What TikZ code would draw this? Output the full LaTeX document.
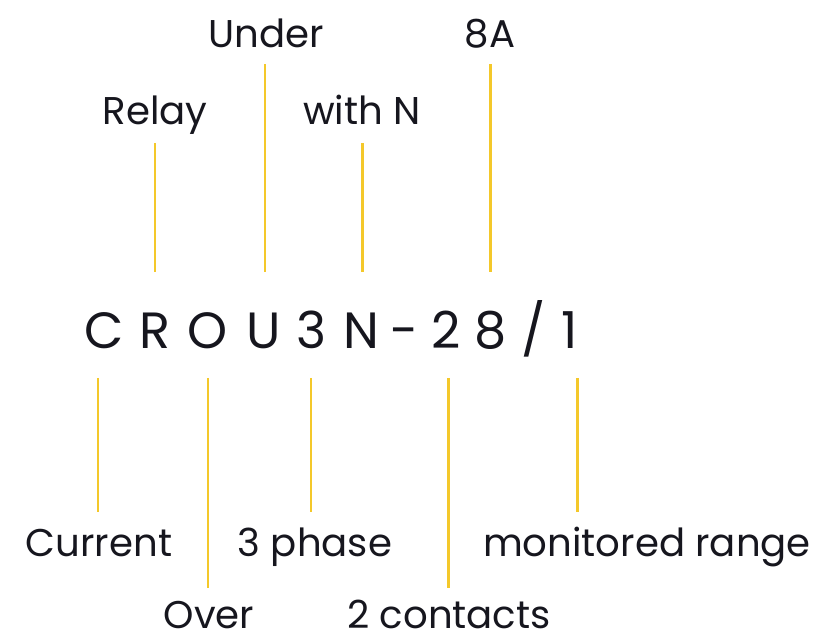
\documentclass[tikz,border=0pt]{standalone}
\usepackage{fontspec}
\setmainfont{Poppins}
\definecolor{tickyellow}{HTML}{F4C82A}
\definecolor{inkdark}{HTML}{16161E}
\tikzset{
    lbl/.style={anchor=base, inner sep=0pt, text=inkdark, font=\fontsize{22}{27}\selectfont},
    codechar/.style={anchor=base, inner sep=0pt, text=inkdark, font=\fontsize{29}{34}\selectfont},
    tick/.style={draw=tickyellow, line width=1.7pt}
}
\begin{document}
\begin{tikzpicture}[x=0.02cm, y=0.02cm]
    \useasboundingbox (0,0) rectangle (827,641);
    % the code itself, one letter at a time
    \foreach \nm/\x/\ch in {c1/104/C, c2/155/R, c3/208/O, c4/264/U, c5/311/3, c6/361/N, c7/405/-, c8/446/2, c9/491/8, c10/534/{/}, c11/570/1}
        \node[codechar] (\nm) at (\x,292) {\ch};
    % labels above
    \node[lbl] (under) at (266,593) {Under};
    \node[lbl] (eighta) at (490,593) {8A};
    \node[lbl] (relay) at (155,516) {Relay};
    \node[lbl] (withn) at (362,516) {with N};
    % labels below
    \node[lbl] (current) at (99,84) {Current};
    \node[lbl] (phase) at (315,84) {3 phase};
    \node[lbl] (range) at (647,84) {monitored range};
    \node[lbl] (over) at (209,12) {Over};
    \node[lbl] (contacts) at (449,12) {2 contacts};
    % yellow ticks
    \foreach \nm/\x/\ya/\yb in {relay/155/498/369, under/265/577/369, withn/362/498/369, eighta/490/577/369,
                                current/98/263/129, over/208/263/53, phase/311/263/129, contacts/448/263/53, range/577/263/129}{
        \coordinate (\nm-a) at (\x,\ya);
        \coordinate (\nm-b) at (\x,\yb);
        \draw[tick] (\nm-a) -- (\nm-b);
    }
\end{tikzpicture}
\end{document}
